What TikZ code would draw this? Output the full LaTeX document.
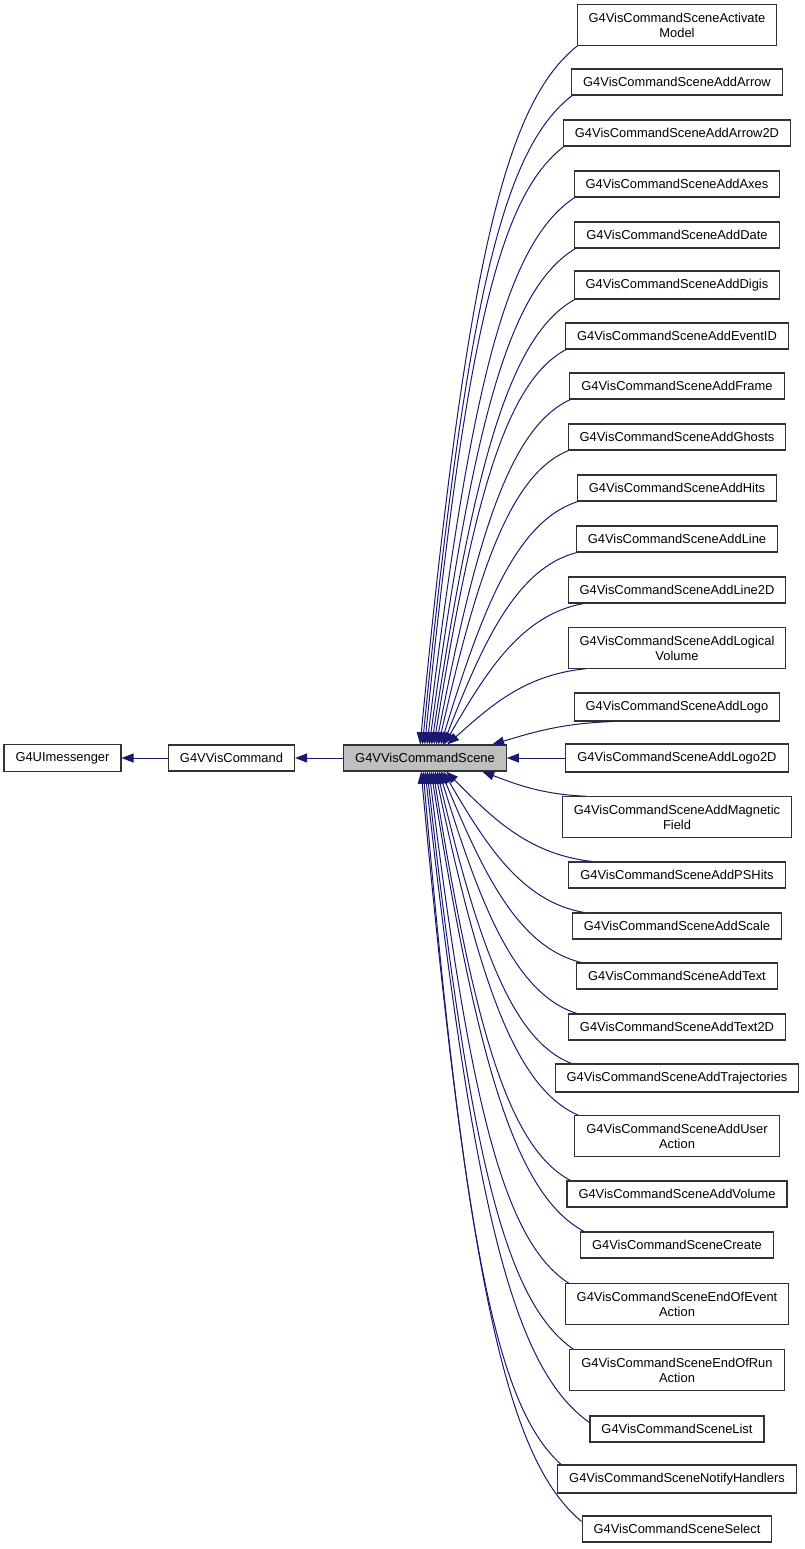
\documentclass[tikz,border=0pt]{standalone}
\usepackage{fontspec}
\setmainfont{Liberation Sans}
\usetikzlibrary{arrows.meta,calc}
\definecolor{edgeblue}{RGB}{25,25,112}
\definecolor{basegray}{RGB}{191,191,191}
\definecolor{boxline}{RGB}{50,50,50}
\newcommand\bendedge[2]{%
  \draw[edge] let \p1=(#1), \p2=(#2),
    \n1={abs(\x2-\x1)}, \n2={abs(\y2-\y1)},
    \n3={min(0.7,0.45+0.06*\n2/\n1)} in
    (\p1) .. controls ({\x1+0.3*(\x2-\x1)},{\y1+\n3*(\y2-\y1)})
    and ({\x2-0.45*(\x2-\x1)},{\y2-0.08*(\y2-\y1)}) .. (\p2);}
\begin{document}
\begin{tikzpicture}[x=1pt,y=-1pt,
  box/.style={draw=boxline, line width=1.1pt, fill=white,
    font=\fontsize{12.9}{15}\selectfont, inner xsep=11.5pt, inner ysep=8pt,
    minimum height=26pt, align=center},
  basebox/.style={box, fill=basegray},
  edge/.style={draw=edgeblue, line width=1pt, {Triangle[length=12pt,width=9pt]}-}]
\useasboundingbox (0,0) rectangle (805,1549);

\node[box] (ui) at (62.5,758) {G4UImessenger};
\node[box] (vvc) at (231.5,758) {G4VVisCommand};
\node[basebox] (base) at (425,758) {G4VVisCommandScene};

\foreach \i/\t/\yy in {
  1/{G4VisCommandSceneActivate\\Model}/25,
  2/{G4VisCommandSceneAddArrow}/82,
  3/{G4VisCommandSceneAddArrow2D}/133,
  4/{G4VisCommandSceneAddAxes}/184,
  5/{G4VisCommandSceneAddDate}/235,
  6/{G4VisCommandSceneAddDigis}/285,
  7/{G4VisCommandSceneAddEventID}/336,
  8/{G4VisCommandSceneAddFrame}/386,
  9/{G4VisCommandSceneAddGhosts}/437,
  10/{G4VisCommandSceneAddHits}/488,
  11/{G4VisCommandSceneAddLine}/539,
  12/{G4VisCommandSceneAddLine2D}/590,
  13/{G4VisCommandSceneAddLogical\\Volume}/648,
  14/{G4VisCommandSceneAddLogo}/707,
  15/{G4VisCommandSceneAddLogo2D}/758,
  16/{G4VisCommandSceneAddMagnetic\\Field}/817,
  17/{G4VisCommandSceneAddPSHits}/875,
  18/{G4VisCommandSceneAddScale}/926,
  19/{G4VisCommandSceneAddText}/976,
  20/{G4VisCommandSceneAddText2D}/1027,
  21/{G4VisCommandSceneAddTrajectories}/1078,
  22/{G4VisCommandSceneAddUser\\Action}/1136,
  23/{G4VisCommandSceneAddVolume}/1194,
  24/{G4VisCommandSceneCreate}/1245,
  25/{G4VisCommandSceneEndOfEvent\\Action}/1304,
  26/{G4VisCommandSceneEndOfRun\\Action}/1370,
  27/{G4VisCommandSceneList}/1429,
  28/{G4VisCommandSceneNotifyHandlers}/1479,
  29/{G4VisCommandSceneSelect}/1529}
  {\node[box] (c\i) at (677,\yy) {\t};}

% straight edges
\draw[edge] (ui.east) -- (vvc.west);
\draw[edge] (vvc.east) -- (base.west);
\draw[edge] (base.east) -- (c15.west);

% edges to children above
\foreach \i in {1,...,11}{
  \pgfmathsetmacro\off{77+(\i-1)*2.3}
  \bendedge{[xshift=\off pt]base.north west}{[xshift=1pt]c\i.south west}
}
\bendedge{[xshift=101pt]base.north west}{[xshift=16pt]c12.south west}
\bendedge{[xshift=104pt]base.north west}{[xshift=18pt]c13.south west}
\bendedge{[xshift=149pt]base.north west}{[xshift=39pt]c14.south west}

% edges to children below
\bendedge{[xshift=139pt]base.south west}{[xshift=24pt]c16.north west}
\bendedge{[xshift=103pt]base.south west}{[xshift=24pt]c17.north west}
\bendedge{[xshift=100pt]base.south west}{[xshift=12pt]c18.north west}
\bendedge{[xshift=98pt]base.south west}{[xshift=5pt]c19.north west}
\bendedge{[xshift=96pt]base.south west}{[xshift=9pt]c20.north west}
\bendedge{[xshift=94pt]base.south west}{[xshift=17pt]c21.north west}
\foreach \i in {22,...,26,28}{
  \pgfmathsetmacro\off{100-(\i-18)*2}
  \bendedge{[xshift=\off pt]base.south west}{[xshift=4pt]c\i.north west}
}
\bendedge{[xshift=82pt]base.south west}{[yshift=-7pt]c27.north west}
\bendedge{[xshift=78pt]base.south west}{[yshift=-6pt]c29.north west}
\end{tikzpicture}
\end{document}
